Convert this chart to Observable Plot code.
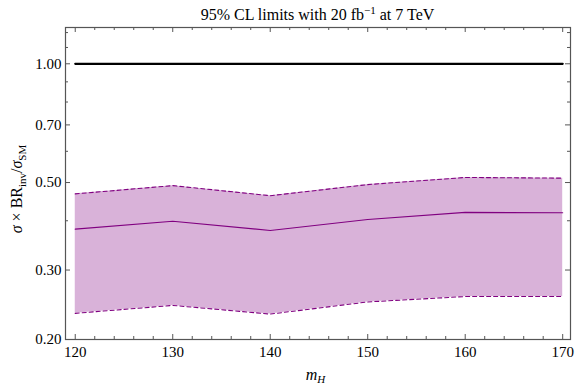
<!DOCTYPE html>
<html>
<head>
<meta charset="utf-8">
<script src="https://cdn.jsdelivr.net/npm/d3@7"></script>
<script src="https://cdn.jsdelivr.net/npm/@observablehq/plot@0.6"></script>
<style>
  html, body { margin: 0; padding: 0; background: #fff; }
  #chart { width: 576px; height: 385px; }
  #chart svg, #chart svg text, #chart svg tspan { font-family: 'Liberation Serif', 'DejaVu Serif', serif !important; }
</style>
</head>
<body>
<div id="chart"></div>
<script>
// ---- data ----
const masses = [120, 130, 140, 150, 160, 170];
const medianLimit = [0.381, 0.399, 0.378, 0.403, 0.420, 0.419];
const upperLimit  = [0.468, 0.491, 0.463, 0.494, 0.515, 0.513];
const lowerLimit  = [0.233, 0.244, 0.232, 0.249, 0.257, 0.257];
const smReference = [1.0, 1.0];
const smRange = [120, 170];
const xMajorTicks = [120, 130, 140, 150, 160, 170];
const xMinorTicks = [122, 124, 126, 128, 132, 134, 136, 138, 142, 144, 146, 148, 152, 154, 156, 158, 162, 164, 166, 168];
const yMajorTicks = [0.2, 0.3, 0.5, 0.7, 1.0];
const yMinorTicks = [0.4, 0.6, 0.8, 0.9, 1.1, 1.2];
const titleText = "95% CL limits with 20 fb";

const rows = masses.map((m, i) => ({m, med: medianLimit[i], up: upperLimit[i], lo: lowerLimit[i]}));
const smRows = smRange.map((m, i) => ({m, v: smReference[i]}));

const W = 576, H = 385;
const mL = 65, mR = 6, mT = 27, mB = 46;
const innerH = H - mT - mB, innerW = W - mL - mR;
const purple = "#800080";
const frameColor = "#555";
const serif = "Liberation Serif";

const plot = Plot.plot({
  width: W, height: H,
  marginLeft: mL, marginRight: mR, marginTop: mT, marginBottom: mB,
  style: {fontFamily: serif, fontSize: "15px", color: "#000", background: "#fff"},
  x: {domain: [119, 170.8]},
  y: {type: "log", domain: [0.2, 1.236]},
  marks: [
    Plot.areaY(rows, {x: "m", y1: "lo", y2: "up", fill: purple, fillOpacity: 0.3}),
    Plot.lineY(rows, {x: "m", y: "up", stroke: purple, strokeWidth: 1.1, strokeDasharray: "4,3"}),
    Plot.lineY(rows, {x: "m", y: "lo", stroke: purple, strokeWidth: 1.1, strokeDasharray: "4,3"}),
    Plot.lineY(rows, {x: "m", y: "med", stroke: purple, strokeWidth: 1.1}),
    Plot.lineY(smRows, {x: "m", y: "v", stroke: "#000", strokeWidth: 2.2}),
    // inward ticks: bottom, top
    Plot.tickX(xMajorTicks, {x: d => d, insetTop: innerH - 5, stroke: frameColor}),
    Plot.tickX(xMinorTicks, {x: d => d, insetTop: innerH - 3, stroke: frameColor}),
    Plot.tickX(xMajorTicks, {x: d => d, insetBottom: innerH - 5, stroke: frameColor}),
    Plot.tickX(xMinorTicks, {x: d => d, insetBottom: innerH - 3, stroke: frameColor}),
    // inward ticks: left, right
    Plot.tickY(yMajorTicks, {y: d => d, insetRight: innerW - 5, stroke: frameColor}),
    Plot.tickY(yMinorTicks, {y: d => d, insetRight: innerW - 3, stroke: frameColor}),
    Plot.tickY(yMajorTicks, {y: d => d, insetLeft: innerW - 5, stroke: frameColor}),
    Plot.tickY(yMinorTicks, {y: d => d, insetLeft: innerW - 3, stroke: frameColor}),
    Plot.frame({stroke: frameColor, strokeWidth: 1.2}),
    Plot.axisX({ticks: xMajorTicks, tickSize: 0, tickPadding: 7, label: null, tickFormat: d3.format("d"), fontSize: 15, fontFamily: serif}),
    Plot.axisY({ticks: yMajorTicks, tickSize: 0, tickPadding: 4, label: null, tickFormat: d3.format(".2f"), fontSize: 15, fontFamily: serif})
  ]
});
document.getElementById("chart").appendChild(plot);

// titles with super/subscripts
const svg = d3.select(plot);
const cx = mL + innerW / 2;
const t = svg.append("text").attr("x", cx).attr("y", 20).attr("text-anchor", "middle")
  .attr("font-family", serif).attr("font-size", 16).attr("fill", "#000");
t.append("tspan").text(titleText);
t.append("tspan").attr("dy", -6).attr("font-size", 11).text("\u22121");
t.append("tspan").attr("dy", 6).text(" at 7 TeV");

const xl = svg.append("text").attr("x", cx - 2).attr("y", 380).attr("text-anchor", "middle")
  .attr("font-family", serif).attr("font-size", 16).attr("fill", "#000");
xl.append("tspan").attr("font-style", "italic").text("m");
xl.append("tspan").attr("font-style", "italic").attr("font-size", 11).attr("dy", 3).text("H");

const yl = svg.append("text").attr("transform", `translate(22,${mT + innerH / 2 + 6}) rotate(-90)`)
  .attr("font-family", serif).attr("text-anchor", "middle").attr("font-size", 16).attr("fill", "#000");
yl.append("tspan").attr("font-style", "italic").text("\u03c3");
yl.append("tspan").text(" \u00d7 BR");
yl.append("tspan").attr("font-size", 11).attr("dy", 4).text("inv");
yl.append("tspan").attr("dy", -4).text("/");
yl.append("tspan").attr("font-style", "italic").text("\u03c3");
yl.append("tspan").attr("font-size", 11).attr("dy", 4).text("SM");
</script>
</body>
</html>
